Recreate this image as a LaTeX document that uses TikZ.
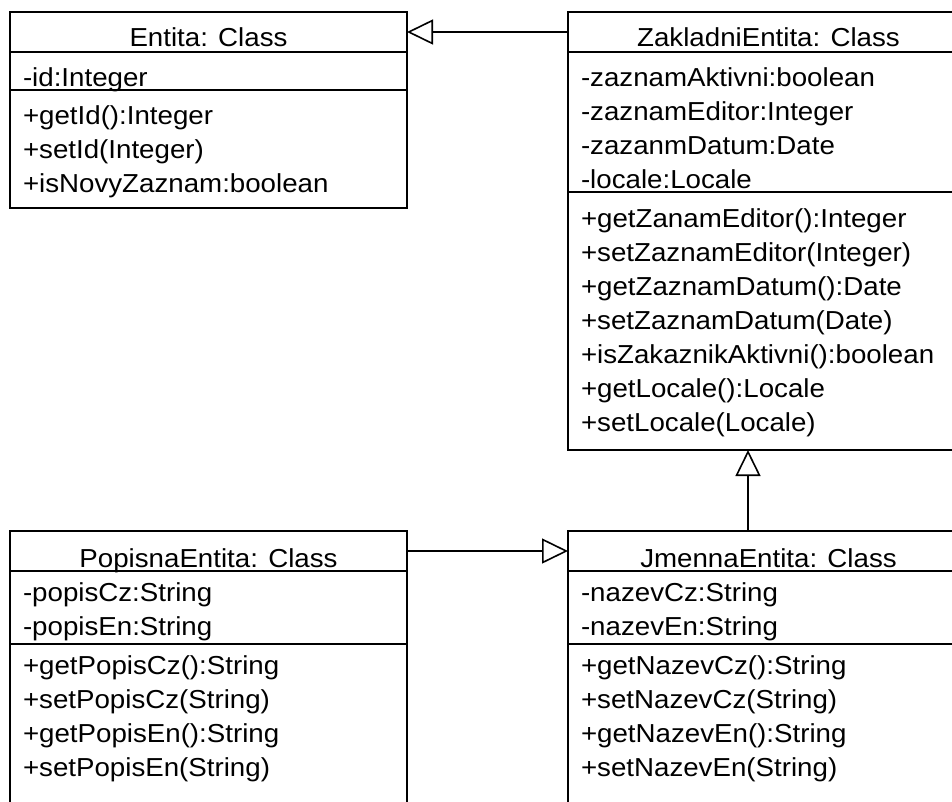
\documentclass[tikz,border=0pt]{standalone}
\usepackage{fontspec}
\setmainfont[FakeStretch=1.065]{Liberation Sans}
\usetikzlibrary{arrows.meta,positioning}

% one compartment of a class box: [first baseline]{height}{width}{lines}
\newcommand{\cpart}[4][34pt]{\parbox[c][#2][t]{#3}{\rule{0pt}{#1}#4}}

\begin{document}
\begin{tikzpicture}[x=1pt, y=-1pt, node distance=0pt,
  every node/.style={font=\fontsize{26pt}{34pt}\selectfont},
  cls/.style={draw, line width=1.6pt, inner xsep=13pt, inner ysep=0pt, outer sep=0pt},
  gen/.style={line width=1.6pt, -{Triangle[open, length=26pt, width=25pt, line width=1.6pt]}}]
\useasboundingbox (0,0) rectangle (952,801);
\clip (0,0) rectangle (952,801);
% top left
\node[cls, anchor=north west] (entitahead) at (10,12) {\cpart{40pt}{371pt}{\centering Entita: Class}};
\node[cls, below=of entitahead] (entitaattr) {\cpart{38pt}{371pt}{-id:Integer}};
\node[cls, below=of entitaattr] (entitaops) {\cpart{118pt}{371pt}{+getId():Integer\\+setId(Integer)\\+isNovyZaznam:boolean}};
% top right
\node[cls, anchor=north west] (zakladhead) at (568,12) {\cpart{40pt}{375pt}{\centering ZakladniEntita: Class}};
\node[cls, below=of zakladhead] (zakladattr) {\cpart{140pt}{375pt}{-zaznamAktivni:boolean\\-zaznamEditor:Integer\\-zazanmDatum:Date\\-locale:Locale}};
\node[cls, below=of zakladattr] (zakladops) {\cpart[35pt]{258pt}{375pt}{+getZanamEditor():Integer\\+setZaznamEditor(Integer)\\+getZaznamDatum():Date\\+setZaznamDatum(Date)\\+isZakaznikAktivni():boolean\\+getLocale():Locale\\+setLocale(Locale)}};
% bottom left
\node[cls, anchor=north west] (popisnahead) at (10,531) {\cpart[36pt]{40pt}{371pt}{\centering PopisnaEntita: Class}};
\node[cls, below=of popisnahead] (popisnaattr) {\cpart[30pt]{73pt}{371pt}{-popisCz:String\\-popisEn:String}};
\node[cls, below=of popisnaattr] (popisnaops) {\cpart[30pt]{200pt}{371pt}{+getPopisCz():String\\+setPopisCz(String)\\+getPopisEn():String\\+setPopisEn(String)}};
% bottom right
\node[cls, anchor=north west] (jmennahead) at (568,531) {\cpart[36pt]{40pt}{375pt}{\centering JmennaEntita: Class}};
\node[cls, below=of jmennahead] (jmennaattr) {\cpart[30pt]{73pt}{375pt}{-nazevCz:String\\-nazevEn:String}};
\node[cls, below=of jmennaattr] (jmennaops) {\cpart[30pt]{200pt}{375pt}{+getNazevCz():String\\+setNazevCz(String)\\+getNazevEn():String\\+setNazevEn(String)}};
% generalisations
\draw[gen] (zakladhead.west) -- (entitahead.east);
\draw[gen] (popisnahead.east) -- (jmennahead.west);
\draw[gen] ([xshift=-20.5pt]jmennahead.north) -- ([xshift=-20.5pt]zakladops.south);
\end{tikzpicture}
\end{document}
